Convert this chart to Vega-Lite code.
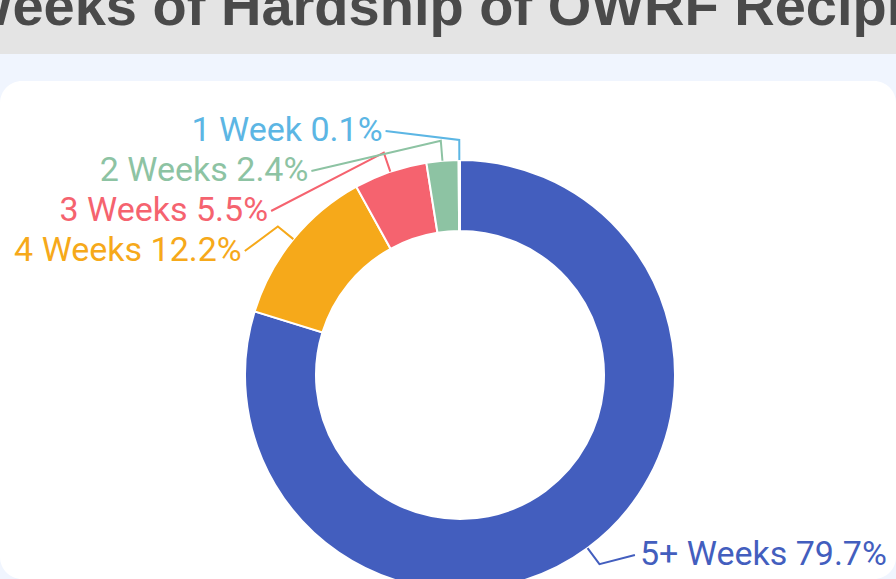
{
  "$schema": "https://vega.github.io/schema/vega-lite/v6.json",
  "background": "#f0f5fe",
  "padding": 0,
  "spacing": 27,
  "config": {"view": {"stroke": null}, "font": "Roboto"},
  "datasets": {
    "hardship": [
      {"category": "5+ Weeks", "percent": 79.7},
      {"category": "4 Weeks", "percent": 12.2},
      {"category": "3 Weeks", "percent": 5.5},
      {"category": "2 Weeks", "percent": 2.4},
      {"category": "1 Week", "percent": 0.1}
    ],
    "heading": [{"text": "Weeks of Hardship of OWRF Recipients"}]
  },
  "vconcat": [
    {
      "width": 896,
      "height": 54,
      "view": {"fill": "#e4e4e4", "stroke": null},
      "data": {"name": "heading"},
      "mark": {"type": "text", "clip": true, "font": "Liberation Sans", "fontWeight": "bold", "fontSize": 56, "color": "#4a4a4a", "baseline": "alphabetic", "align": "center", "dx": 41, "dy": -2},
      "encoding": {"text": {"field": "text", "type": "nominal"}}
    },
    {
      "width": 896,
      "height": 498,
      "view": {"fill": "#ffffff", "stroke": null, "cornerRadius": 22},
      "data": {"name": "hardship"},
      "transform": [
        {"joinaggregate": [{"op": "sum", "field": "percent", "as": "total"}]},
        {"window": [{"op": "sum", "field": "percent", "as": "cum"}], "sort": [{"field": "category", "order": "descending"}], "frame": [null, 0]},
        {"calculate": "2 * PI * (datum.cum - datum.percent / 2) / datum.total", "as": "mid"},
        {"calculate": "sin(datum.mid) < 0 ? -1 : 1", "as": "side"},
        {"calculate": "-244 * cos(datum.mid)", "as": "ny"},
        {"window": [{"op": "row_number", "as": "k"}], "groupby": ["side"], "sort": [{"field": "ny", "order": "ascending"}]},
        {"calculate": "datum.ny - 40 * datum.k", "as": "t"},
        {"window": [{"op": "max", "field": "t", "as": "tmax"}], "groupby": ["side"], "sort": [{"field": "ny", "order": "ascending"}], "frame": [null, 0]},
        {"calculate": "min(datum.tmax + 40 * datum.k, 180)", "as": "py"},
        {"calculate": "datum.side * 246 * sqrt(max(0, 1 - pow(datum.py / 256, 2)))", "as": "lx"},
        {"calculate": "datum.category + ' ' + format(datum.percent, '.1f') + '%'", "as": "label"}
      ],
      "layer": [
        {
          "mark": {"type": "arc", "clip": true, "outerRadius": 215, "innerRadius": 144, "stroke": "#ffffff", "strokeWidth": 2},
          "encoding": {
            "theta": {"field": "percent", "type": "quantitative", "stack": true},
            "order": {"field": "category", "sort": "descending"},
            "color": {"field": "category", "type": "nominal", "legend": null,
              "scale": {"domain": ["5+ Weeks", "4 Weeks", "3 Weeks", "2 Weeks", "1 Week"], "range": ["#435ebe", "#f6a91a", "#f5636f", "#8dc3a3", "#5cb6e4"]}},
            "x": {"datum": 0, "type": "quantitative", "axis": null, "scale": {"domain": [-460, 436], "nice": false, "zero": false}},
            "y": {"datum": 0, "type": "quantitative", "axis": null, "scale": {"domain": [-294, 204], "reverse": true, "nice": false, "zero": false}}
          }
        },
        {
          "transform": [
            {"calculate": "[0, 1, 2]", "as": "pt"},
            {"flatten": ["pt"]},
            {"calculate": "datum.pt == 0 ? 215 * sin(datum.mid) : datum.pt == 1 ? 235 * sin(datum.mid) : datum.lx", "as": "px"},
            {"calculate": "datum.pt == 0 ? -215 * cos(datum.mid) : datum.pt == 1 ? -235 * cos(datum.mid) : datum.py", "as": "pyy"}
          ],
          "mark": {"type": "line", "strokeWidth": 2, "interpolate": "linear"},
          "encoding": {
            "x": {"field": "px", "type": "quantitative", "axis": null, "scale": {"domain": [-460, 436], "nice": false, "zero": false}},
            "y": {"field": "pyy", "type": "quantitative", "axis": null, "scale": {"domain": [-294, 204], "reverse": true, "nice": false, "zero": false}},
            "color": {"field": "category", "type": "nominal", "legend": null},
            "detail": {"field": "category", "type": "nominal"},
            "order": {"field": "pt", "type": "quantitative"}
          }
        },
        {
          "transform": [{"filter": "datum.side < 0"}],
          "mark": {"type": "text", "align": "right", "baseline": "middle", "fontSize": 34, "font": "Roboto", "dx": -3},
          "encoding": {
            "x": {"field": "lx", "type": "quantitative", "axis": null, "scale": {"domain": [-460, 436], "nice": false, "zero": false}},
            "y": {"field": "py", "type": "quantitative", "axis": null, "scale": {"domain": [-294, 204], "reverse": true, "nice": false, "zero": false}},
            "text": {"field": "label", "type": "nominal"},
            "color": {"field": "category", "type": "nominal", "legend": null}
          }
        },
        {
          "transform": [{"filter": "datum.side > 0"}],
          "mark": {"type": "text", "align": "left", "baseline": "middle", "fontSize": 34, "font": "Roboto", "dx": 5},
          "encoding": {
            "x": {"field": "lx", "type": "quantitative", "axis": null, "scale": {"domain": [-460, 436], "nice": false, "zero": false}},
            "y": {"field": "py", "type": "quantitative", "axis": null, "scale": {"domain": [-294, 204], "reverse": true, "nice": false, "zero": false}},
            "text": {"field": "label", "type": "nominal"},
            "color": {"field": "category", "type": "nominal", "legend": null}
          }
        }
      ]
    }
  ]
}
